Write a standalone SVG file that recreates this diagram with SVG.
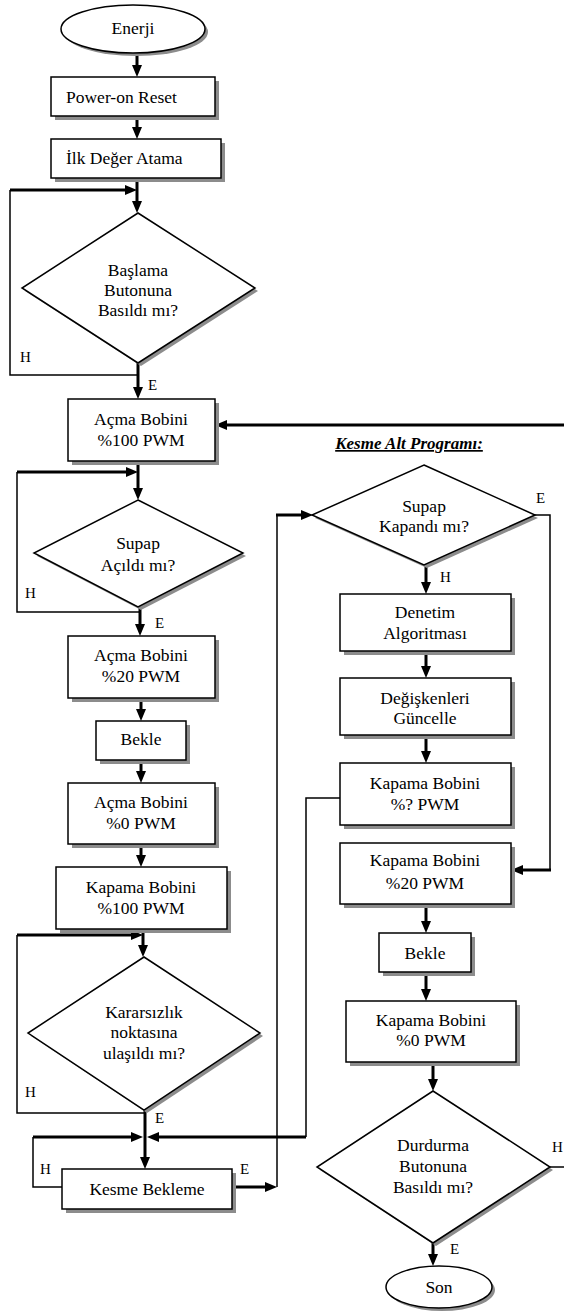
<svg xmlns="http://www.w3.org/2000/svg" width="564" height="1314" viewBox="0 0 564 1314">
<style>
.sh{fill:#8c8c8c;stroke:none}
.bx{fill:#fff;stroke:#000;stroke-width:1.5}
.t{font-family:"Liberation Serif","Times New Roman",serif;font-size:17.5px;fill:#000;text-anchor:middle}
.l{font-family:"Liberation Serif","Times New Roman",serif;font-size:15px;fill:#000}
.ttl{font-family:"Liberation Serif","Times New Roman",serif;font-size:17px;font-weight:bold;font-style:italic;text-decoration:underline;text-anchor:middle}
.th{fill:none;stroke:#000;stroke-width:3}
.tn{fill:none;stroke:#000;stroke-width:1.5}
.ar{marker-end:url(#ah)}
</style>
<defs>
<marker id="ah" viewBox="0 0 12 10" refX="2" refY="5" markerWidth="12" markerHeight="10" markerUnits="userSpaceOnUse" orient="auto">
<path d="M0,0 L12,5 L0,10 z" fill="#000"/>
</marker>
</defs>
<rect width="564" height="1314" fill="#fff"/>

<g id="connectors">
<path class="th ar" d="M137,53 V67"/>
<path class="th ar" d="M137,116 V129"/>
<path class="th ar" d="M10,190 H127"/>
<path class="th ar" d="M137,178 V203"/>
<path class="tn" d="M10,190 V375 H138"/>
<path class="th ar" d="M138,363 V389"/>
<path class="th ar" d="M564,425 H225"/>
<path class="th ar" d="M17,472 H128"/>
<path class="th ar" d="M138,461 V490"/>
<path class="tn" d="M17,472 V612 H140"/>
<path class="th ar" d="M140,607 V626"/>
<path class="th ar" d="M141,698 V711"/>
<path class="th ar" d="M141,760 V773"/>
<path class="th ar" d="M141,844 V857"/>
<path class="th ar" d="M17,935 H133"/>
<path class="th ar" d="M143,929 V947"/>
<path class="tn" d="M17,935 V1113 H145"/>
<path class="th ar" d="M33,1137 H133"/>
<path class="th ar" d="M306,1137 H157"/>
<path class="th ar" d="M145,1110 V1159"/>
<path class="tn" d="M62,1187 H33 V1137"/>
<path class="th ar" d="M232,1187 H267"/>
<path class="tn" d="M277,1187 V515"/>
<path class="th ar" d="M276,515 H303"/>
<path class="tn" d="M535,515 H550 V870"/>
<path class="th ar" d="M551,870 H521"/>
<path class="th ar" d="M426,565 V584"/>
<path class="th ar" d="M426,651 V668"/>
<path class="th ar" d="M426,735 V753"/>
<path class="tn" d="M340,798 H306 V1137"/>
<path class="th ar" d="M426,904 V923"/>
<path class="th ar" d="M426,972 V991"/>
<path class="th ar" d="M433,1062 V1081"/>
<path class="tn" d="M550,1167 H564"/>
<path class="th ar" d="M433,1243 V1256"/>
</g>

<g id="labels">
<text class="l" x="20" y="362">H</text>
<text class="l" x="148" y="390">E</text>
<text class="l" x="25" y="598">H</text>
<text class="l" x="155" y="628">E</text>
<text class="l" x="25" y="1097">H</text>
<text class="l" x="155" y="1123">E</text>
<text class="l" x="40" y="1174">H</text>
<text class="l" x="240" y="1174">E</text>
<text class="l" x="536" y="503">E</text>
<text class="l" x="440" y="582">H</text>
<text class="l" x="552" y="1152">H</text>
<text class="l" x="450" y="1254">E</text>
<text class="ttl" x="409" y="449">Kesme Alt Programı:</text>
</g>

<g id="enerji">
<ellipse class="sh" cx="136" cy="32" rx="72" ry="24"/>
<ellipse class="bx" cx="133" cy="29" rx="72" ry="24"/>
<text class="t" x="133" y="34">Enerji</text>
</g>
<g id="power-on-reset">
<rect class="sh" x="55" y="81" width="164" height="39"/>
<rect class="bx" x="51" y="77" width="164" height="39"/>
<text class="t" x="66" y="103" style="text-anchor:start">Power-on Reset</text>
</g>
<g id="ilk-deger">
<rect class="sh" x="55" y="143" width="170" height="39"/>
<rect class="bx" x="51" y="139" width="170" height="39"/>
<text class="t" x="66" y="164" style="text-anchor:start">İlk Değer Atama</text>
</g>
<g id="baslama">
<polygon class="sh" points="141,216 258,291 141,366 25,291"/>
<polygon class="bx" points="138,213 255,288 138,363 22,288"/>
<text class="t" x="138" y="276">Başlama</text>
<text class="t" x="138" y="296">Butonuna</text>
<text class="t" x="138" y="316">Basıldı mı?</text>
</g>
<g id="acma100">
<rect class="sh" x="72" y="403" width="147" height="62"/>
<rect class="bx" x="68" y="399" width="147" height="62"/>
<text class="t" x="141" y="425">Açma Bobini</text>
<text class="t" x="141" y="446">%100 PWM</text>
</g>
<g id="supap-acildi">
<polygon class="sh" points="141,503 246,556 141,610 37,556"/>
<polygon class="bx" points="138,500 243,553 138,607 34,553"/>
<text class="t" x="138" y="549">Supap</text>
<text class="t" x="138" y="571">Açıldı mı?</text>
</g>
<g id="acma20">
<rect class="sh" x="72" y="640" width="147" height="62"/>
<rect class="bx" x="68" y="636" width="147" height="62"/>
<text class="t" x="141" y="661">Açma Bobini</text>
<text class="t" x="141" y="682">%20 PWM</text>
</g>
<g id="bekle1">
<rect class="sh" x="100" y="725" width="90" height="39"/>
<rect class="bx" x="96" y="721" width="90" height="39"/>
<text class="t" x="141" y="745">Bekle</text>
</g>
<g id="acma0">
<rect class="sh" x="72" y="787" width="147" height="61"/>
<rect class="bx" x="68" y="783" width="147" height="61"/>
<text class="t" x="141" y="808">Açma Bobini</text>
<text class="t" x="141" y="829">%0 PWM</text>
</g>
<g id="kapama100">
<rect class="sh" x="60" y="871" width="171" height="62"/>
<rect class="bx" x="56" y="867" width="171" height="62"/>
<text class="t" x="141" y="893">Kapama Bobini</text>
<text class="t" x="141" y="914">%100 PWM</text>
</g>
<g id="kararsizlik">
<polygon class="sh" points="147,960 263,1036 147,1113 31,1036"/>
<polygon class="bx" points="144,957 260,1033 144,1110 28,1033"/>
<text class="t" x="144" y="1018">Kararsızlık</text>
<text class="t" x="144" y="1038">noktasına</text>
<text class="t" x="144" y="1059">ulaşıldı mı?</text>
</g>
<g id="kesme-bekleme">
<rect class="sh" x="66" y="1173" width="170" height="40"/>
<rect class="bx" x="62" y="1169" width="170" height="40"/>
<text class="t" x="147" y="1195">Kesme Bekleme</text>
</g>
<g id="supap-kapandi">
<polygon class="sh" points="427,468 538,518 427,568 315,518"/>
<polygon class="bx" points="424,465 535,515 424,565 312,515"/>
<text class="t" x="424" y="512">Supap</text>
<text class="t" x="424" y="532">Kapandı mı?</text>
</g>
<g id="denetim">
<rect class="sh" x="344" y="598" width="171" height="57"/>
<rect class="bx" x="340" y="594" width="171" height="57"/>
<text class="t" x="425" y="618">Denetim</text>
<text class="t" x="425" y="639">Algoritması</text>
</g>
<g id="degiskenler">
<rect class="sh" x="344" y="682" width="171" height="57"/>
<rect class="bx" x="340" y="678" width="171" height="57"/>
<text class="t" x="425" y="704">Değişkenleri</text>
<text class="t" x="425" y="724">Güncelle</text>
</g>
<g id="kapama-q">
<rect class="sh" x="344" y="767" width="171" height="62"/>
<rect class="bx" x="340" y="763" width="171" height="62"/>
<text class="t" x="425" y="789">Kapama Bobini</text>
<text class="t" x="425" y="810">%? PWM</text>
</g>
<g id="kapama20">
<rect class="sh" x="344" y="847" width="171" height="61"/>
<rect class="bx" x="340" y="843" width="171" height="61"/>
<text class="t" x="425" y="866">Kapama Bobini</text>
<text class="t" x="425" y="889">%20 PWM</text>
</g>
<g id="bekle2">
<rect class="sh" x="383" y="937" width="92" height="39"/>
<rect class="bx" x="379" y="933" width="92" height="39"/>
<text class="t" x="425" y="959">Bekle</text>
</g>
<g id="kapama0">
<rect class="sh" x="350" y="1005" width="170" height="61"/>
<rect class="bx" x="346" y="1001" width="170" height="61"/>
<text class="t" x="431" y="1026">Kapama Bobini</text>
<text class="t" x="431" y="1046">%0 PWM</text>
</g>
<g id="durdurma">
<polygon class="sh" points="436,1094 553,1170 436,1246 320,1170"/>
<polygon class="bx" points="433,1091 550,1167 433,1243 317,1167"/>
<text class="t" x="433" y="1151">Durdurma</text>
<text class="t" x="433" y="1172">Butonuna</text>
<text class="t" x="433" y="1193">Basıldı mı?</text>
</g>
<g id="son">
<ellipse class="sh" cx="442" cy="1290" rx="53" ry="21"/>
<ellipse class="bx" cx="439" cy="1287" rx="53" ry="21"/>
<text class="t" x="439" y="1293">Son</text>
</g>
</svg>
